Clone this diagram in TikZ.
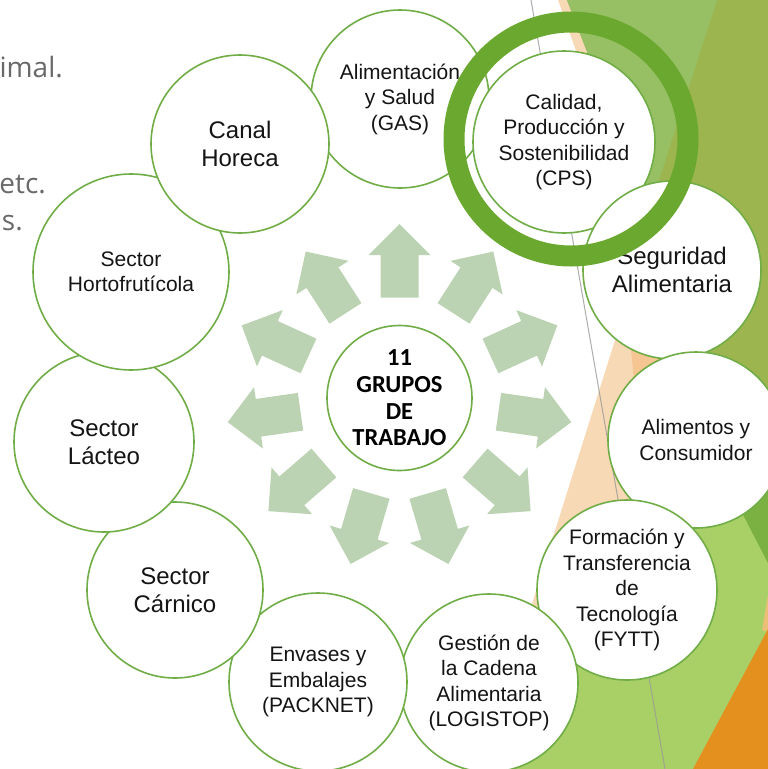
\documentclass[tikz,border=0pt]{standalone}
\usepackage{fontspec}
\setmainfont{Liberation Sans}
\newfontfamily\centerfont{Carlito}
\newfontfamily\slidefont{Open Sans}
\definecolor{circline}{RGB}{112,173,71}
\definecolor{ringgreen}{RGB}{107,168,47}
\definecolor{arrowfill}{RGB}{187,211,178}
\definecolor{peach}{RGB}{248,217,182}
\definecolor{peachdark}{RGB}{245,197,146}
\definecolor{olive}{RGB}{156,181,79}
\definecolor{lightgreen}{RGB}{151,192,100}
\definecolor{yellowgreen}{RGB}{169,208,103}
\definecolor{darkgreen}{RGB}{123,177,66}
\definecolor{orangebg}{RGB}{227,144,30}
\definecolor{tanbg}{RGB}{235,190,120}
\definecolor{slidegray}{RGB}{105,105,105}
\definecolor{txt}{RGB}{20,20,20}
\begin{document}
\begin{tikzpicture}[x=1pt,y=-1pt,
  grp/.style={circle, draw=circline, line width=1.6pt, fill=white, minimum size=#1, inner sep=0pt, align=center, text=txt},
  smalltxt/.style={font=\fontsize{21}{25.5}\selectfont},
  bigtxt/.style={font=\fontsize{24}{28.5}\selectfont},
  slidetxt/.style={font=\slidefont\fontsize{28}{34}\selectfont, text=slidegray, anchor=base east, inner sep=0pt},
  bgarrow/.style={fill=arrowfill}
]
\useasboundingbox (0,0) rectangle (768,769);
\fill[white] (0,0) rectangle (768,769);
% background facets
\fill[peach] (558,0) -- (645,245) -- (480,769) -- (768,769) -- (768,0) -- cycle;
\fill[peachdark] (626,300) -- (638,420) -- (768,420) -- (768,300) -- cycle;
\fill[olive] (567,0) -- (768,0) -- (768,520) -- cycle;
\fill[lightgreen] (567,0) -- (717,0) -- (649,211) -- cycle;
\fill[yellowgreen] (768,400) -- (768,769) -- (500,769) -- cycle;
\fill[darkgreen] (768,420) -- (768,563) -- (725,480) -- cycle;
\fill[tanbg] (768,595) -- (768,632) -- (762,630) -- cycle;
\fill[orangebg] (768,629) -- (768,769) -- (693,769) -- cycle;
\draw[black!40, line width=1pt, opacity=0.8] (531,0) -- (665,769);
% slide text fragments
\node[slidetxt] (t1) at (63,77) {imal.};
\node[slidetxt] (t2) at (46,193) {etc.};
\node[slidetxt] (t3) at (23,230) {s.};
% arrows
\foreach \a in {0,...,10} {
  \pgfmathsetmacro\ang{90-\a*360/11}
  \fill[bgarrow, shift={(399.5,397.5)}, rotate=\ang]
    (100,-19) -- (142.5,-19) -- (142.5,-31) -- (173.5,0) -- (142.5,31) -- (142.5,19) -- (100,19) -- cycle;
}
% center
\node[grp=145pt, font=\centerfont\bfseries\fontsize{24.5}{26.7}\selectfont, text=black] (c) at (399.5,398) {11\\GRUPOS\\DE\\TRABAJO};
% group circles
\node[grp=178pt, smalltxt] (gas) at (400,99) {Alimentación\\y Salud\\(GAS)};
\node[grp=182pt, smalltxt] (cps) at (564,142) {Calidad,\\Producción y\\Sostenibilidad\\(CPS)};
\node[grp=178pt, bigtxt] (seg) at (672,270) {Seguridad\\Alimentaria};
\node[grp=176pt, smalltxt] (ali) at (696,440) {Alimentos y\\Consumidor};
\node[grp=180pt, smalltxt] (fytt) at (627,590) {Formación y\\Transferencia\\de\\Tecnología\\(FYTT)};
\node[grp=178pt, smalltxt] (log) at (489,683) {Gestión de\\la Cadena\\Alimentaria\\(LOGISTOP)};
\node[grp=178pt, smalltxt] (pack) at (318,682) {Envases y\\Embalajes\\(PACKNET)};
\node[grp=176pt, bigtxt] (carn) at (175,590) {Sector\\Cárnico};
\node[grp=180pt, bigtxt] (lact) at (104,442) {Sector\\Lácteo};
\node[grp=196pt, smalltxt] (horto) at (131,272) {Sector\\Hortofrutícola};
\node[grp=178pt, bigtxt] (canal) at (240,144) {Canal\\Horeca};
% highlight ring
\draw[ringgreen, line width=21pt] (571,139) circle[radius=117pt];
\end{tikzpicture}
\end{document}
